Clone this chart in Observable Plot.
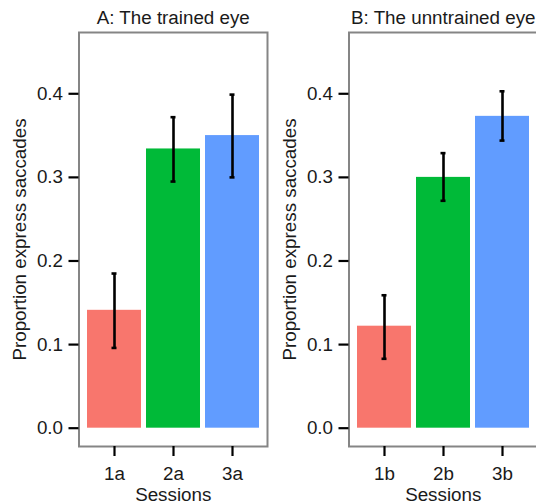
<!DOCTYPE html>
<html>
<head>
<meta charset="utf-8">
<script src="https://cdn.jsdelivr.net/npm/d3@7"></script>
<script src="https://cdn.jsdelivr.net/npm/@observablehq/plot@0.6"></script>
<style>
  html, body { margin: 0; padding: 0; background: white; }
  #wrap { display: flex; width: 536px; height: 503px; overflow: hidden; background: white; }
  #wrap > div { flex: 0 0 270px; width: 270px; }
</style>
</head>
<body>
<div id="wrap"><div id="pA"></div><div id="pB"></div></div>
<script>
// Panel A: trained eye
const titleA = "A: The trained eye";
const sessionsA = ["1a", "2a", "3a"];
const meansA = [0.141, 0.334, 0.350];
const lowerA = [0.096, 0.295, 0.300];
const upperA = [0.185, 0.372, 0.399];

// Panel B: untrained eye (title as printed)
const titleB = "B: The unntrained eye";
const sessionsB = ["1b", "2b", "3b"];
const meansB = [0.122, 0.300, 0.373];
const lowerB = [0.083, 0.272, 0.344];
const upperB = [0.159, 0.329, 0.403];

const yTicks = [0, 0.1, 0.2, 0.3, 0.4];
const yLabel = "Proportion express saccades";
const xLabel = "Sessions";
const colors = ["#F8766D", "#00BA38", "#619CFF"];

function panel(title, sessions, means, lower, upper) {
  const data = sessions.map((s, i) => ({session: s, mean: means[i], lo: lower[i], hi: upper[i]}));
  return Plot.plot({
    width: 270,
    height: 503,
    marginLeft: 78.5,
    marginRight: 3,
    marginTop: 32,
    marginBottom: 57,
    style: {fontFamily: "'Liberation Sans', Arial, sans-serif", fontSize: "18.8px", color: "#1a1a1a", background: "white"},
    x: {domain: sessions, paddingInner: 0.092, paddingOuter: 0.126},
    y: {domain: [-0.0219, 0.4733]},
    color: {domain: sessions, range: colors},
    marks: [
      Plot.barY(data, {x: "session", y: "mean", fill: "session"}),
      Plot.ruleX(data, {x: "session", y1: "lo", y2: "hi", stroke: "black", strokeWidth: 2.6}),
      Plot.tickY(data, {x: "session", y: "lo", stroke: "black", strokeWidth: 2.6, insetLeft: 24.5, insetRight: 24.5}),
      Plot.tickY(data, {x: "session", y: "hi", stroke: "black", strokeWidth: 2.6, insetLeft: 24.5, insetRight: 24.5}),
      Plot.frame({stroke: "#858585", strokeWidth: 2}),
      Plot.axisY({ticks: yTicks, tickFormat: ".1f", tickSize: 10, tickPadding: 6, strokeWidth: 2.2, stroke: "black",
                  label: yLabel, labelAnchor: "center", labelArrow: "none", labelOffset: 66}),
      Plot.axisX({tickSize: 10, tickPadding: 10, strokeWidth: 2.2, stroke: "black",
                  label: xLabel, labelAnchor: "center", labelArrow: "none", labelOffset: 54}),
      Plot.text([title], {frameAnchor: "top", dy: -14.7, lineAnchor: "middle", fontSize: "18.8px", fill: "#1a1a1a"})
    ]
  });
}

document.getElementById("pA").append(panel(titleA, sessionsA, meansA, lowerA, upperA));
document.getElementById("pB").append(panel(titleB, sessionsB, meansB, lowerB, upperB));
</script>
</body>
</html>
